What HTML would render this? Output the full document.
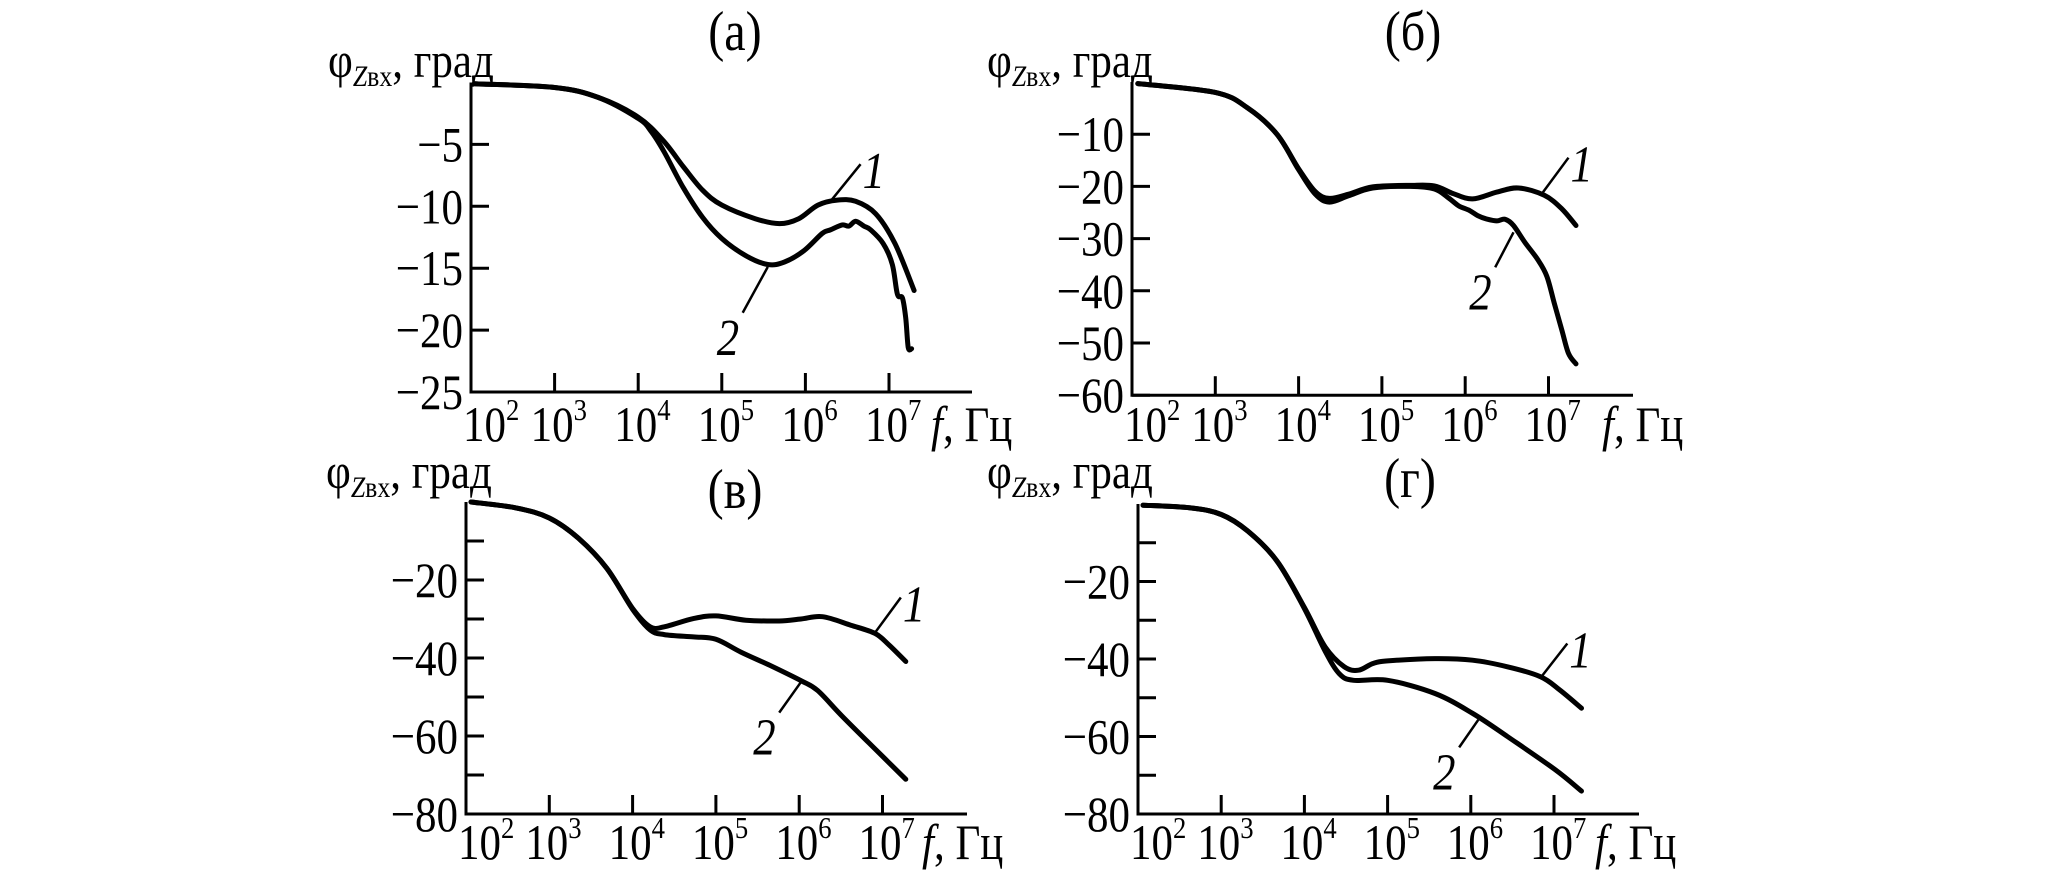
<!DOCTYPE html>
<html><head><meta charset="utf-8"><style>
html,body{margin:0;padding:0;background:#fff;}
svg{display:block;font-family:"Liberation Serif","DejaVu Serif",serif;}
</style></head><body>
<svg id="fig" width="2067" height="877" viewBox="0 0 2067 877" xmlns="http://www.w3.org/2000/svg"></svg>
<script>
// ---- data (log10 f, phase in degrees) ----
const aCurve1X=[2.04,3,3.52,4,4.3,4.54,4.77,5,5.4,5.69,5.92,6.15,6.38,6.6,6.84,7.07,7.3];
const aCurve1Y=[-0.1,-0.4,-1.2,-2.8,-4.7,-6.8,-8.7,-9.9,-11,-11.4,-11,-9.9,-9.5,-9.6,-10.6,-13,-16.8];
const aCurve2X=[2.04,3,3.52,4,4.15,4.31,4.54,4.77,5,5.29,5.55,5.75,5.98,6.2,6.3,6.44,6.52,6.6,6.7,6.78,6.93,7.04,7.1,7.16,7.2,7.23,7.27];
const aCurve2Y=[-0.1,-0.4,-1.2,-2.9,-3.9,-5.6,-8.5,-10.9,-12.6,-14,-14.7,-14.5,-13.6,-12.2,-11.9,-11.5,-11.6,-11.2,-11.6,-11.9,-13,-14.7,-17.1,-17.4,-19,-21.4,-21.5];
const bCurve1X=[2.07,3,3.39,3.74,4,4.2,4.37,4.6,4.89,5.34,5.63,5.86,6.09,6.38,6.64,6.95,7.16,7.33];
const bCurve1Y=[-0.3,-2,-5,-10,-16.6,-21,-22.3,-21.5,-20.1,-19.8,-19.9,-21.4,-22.4,-21.1,-20.3,-21.7,-24.3,-27.5];
const bCurve2X=[2.07,3,3.39,3.74,4,4.2,4.37,4.6,4.89,5.34,5.63,5.8,5.92,6.05,6.15,6.25,6.38,6.48,6.58,6.72,6.87,6.98,7.07,7.16,7.24,7.33];
const bCurve2Y=[-0.3,-2,-5,-10,-16.8,-21.5,-23,-21.8,-20.3,-20,-20.5,-22.2,-23.7,-24.6,-25.6,-26.2,-26.6,-26.3,-27.5,-30.8,-34,-37.2,-42.4,-47.5,-52,-54];
const cCurve1X=[2.06,2.6,3,3.35,3.69,4,4.21,4.38,4.73,5,5.36,5.76,6.02,6.28,6.62,6.91,7.08,7.28];
const cCurve1Y=[0,-1.5,-4.1,-9.3,-17,-27.3,-32,-32,-29.9,-29.2,-30.3,-30.5,-30,-29.4,-31.6,-33.7,-36.7,-40.9];
const cCurve2X=[2.06,2.6,3,3.35,3.69,4,4.21,4.38,4.73,5,5.3,5.65,6.02,6.22,6.51,6.91,7.28];
const cCurve2Y=[0,-1.5,-4.1,-9.3,-17,-27.5,-32.8,-34,-34.6,-35.2,-38.5,-41.9,-45.8,-48.3,-54.8,-63.3,-71.1];
const dCurve1X=[2.06,2.63,3,3.32,3.67,4,4.25,4.48,4.65,4.82,5,5.57,6.02,6.44,6.84,7.07,7.33];
const dCurve1Y=[-0.3,-1,-2.7,-7,-14.7,-26.7,-36.9,-42,-42.9,-41.2,-40.5,-39.9,-40.3,-42,-44.6,-48,-52.7];
const dCurve2X=[2.06,2.63,3,3.32,3.67,4,4.25,4.42,4.59,5,5.57,6.02,6.44,7.01,7.33];
const dCurve2Y=[-0.3,-1,-2.7,-7,-14.7,-27,-38,-43.8,-45.5,-45.5,-48.9,-54,-60,-68.5,-74.1];
const xTickExps=[2,3,4,5,6,7];
const aYTicks=[-5,-10,-15,-20,-25];
const bYTicks=[-10,-20,-30,-40,-50,-60];
const cdYTicks=[-10,-20,-30,-40,-50,-60,-70,-80];
const cdYLabels=[-20,-40,-60,-80];
// leader annotations: [fromX, fromY, toX, toY] in data coords
const aLead1=[6.3,-9.6,6.66,-6.6]; const aLead2=[5.55,-14.9,5.25,-18.6];
const bLead1=[6.92,-21.4,7.24,-14.5]; const bLead2=[6.58,-28.8,6.36,-35.5];
const cLead1=[6.9,-33.8,7.22,-24.5]; const cLead2=[6.02,-46.2,5.76,-54.0];
const dLead1=[6.84,-44.8,7.16,-36.0]; const dLead2=[6.09,-55.7,5.86,-62.8];

const NS="http://www.w3.org/2000/svg";
const svg=document.getElementById('fig');
function mk(tag,attrs,parent){const e=document.createElementNS(NS,tag);for(const k in attrs)e.setAttribute(k,attrs[k]);(parent||svg).appendChild(e);return e;}
function txt(x,y,size,anchor,parent){return mk('text',{x:0,y:0,'font-size':size,'text-anchor':anchor,transform:`translate(${x},${y}) scale(0.86,1)`},parent);}
function smooth(pts){
 let d='M'+pts[0][0].toFixed(1)+','+pts[0][1].toFixed(1);
 for(let i=0;i<pts.length-1;i++){
  const p0=pts[i-1]||pts[i],p1=pts[i],p2=pts[i+1],p3=pts[i+2]||p2;
  const c1=[p1[0]+(p2[0]-p0[0])/6,p1[1]+(p2[1]-p0[1])/6];
  const c2=[p2[0]-(p3[0]-p1[0])/6,p2[1]-(p3[1]-p1[1])/6];
  d+=` C${c1[0].toFixed(1)},${c1[1].toFixed(1)} ${c2[0].toFixed(1)},${c2[1].toFixed(1)} ${p2[0].toFixed(1)},${p2[1].toFixed(1)}`;
 }
 return d;
}

const panels=[
 {id:'a',title:'(а)',tx:735,ty:50,x0:471,dec:83.6,y0:82.5,yu:12.38,ymin:-25,xEnd:972,yTicks:aYTicks,yLabels:aYTicks,
  c1x:aCurve1X,c1y:aCurve1Y,c2x:aCurve2X,c2y:aCurve2Y,l1:aLead1,l2:aLead2,lbx:328,lby:77,xlb:441,fx:931},
 {id:'b',title:'(б)',tx:1413,ty:50,x0:1132,dec:83.3,y0:82,yu:5.22,ymin:-60,xEnd:1633,yTicks:bYTicks,yLabels:bYTicks,
  c1x:bCurve1X,c1y:bCurve1Y,c2x:bCurve2X,c2y:bCurve2Y,l1:bLead1,l2:bLead2,lbx:987,lby:77,xlb:441,fx:1602},
 {id:'c',title:'(в)',tx:735,ty:508,x0:466,dec:83.3,y0:502,yu:3.9,ymin:-80,xEnd:967,yTicks:cdYTicks,yLabels:cdYLabels,
  c1x:cCurve1X,c1y:cCurve1Y,c2x:cCurve2X,c2y:cCurve2Y,l1:cLead1,l2:cLead2,lbx:326,lby:488,xlb:859,fx:922},
 {id:'d',title:'(г)',tx:1410,ty:497,x0:1138,dec:83.2,y0:504,yu:3.875,ymin:-80,xEnd:1639,yTicks:cdYTicks,yLabels:cdYLabels,
  c1x:dCurve1X,c1y:dCurve1Y,c2x:dCurve2X,c2y:dCurve2Y,l1:dLead1,l2:dLead2,lbx:987,lby:488,xlb:859,fx:1595}
];

panels.forEach(p=>{
 const X=v=>p.x0+(v-2)*p.dec;
 const Y=v=>p.y0-v*p.yu;
 const g=mk('g',{});
 
 
 const yb=Y(p.ymin);
 const ax=mk('path',{d:`M${p.x0},${p.y0} V${yb} H${p.xEnd}`,fill:'none',stroke:'#000','stroke-width':3},g);
 
 
 p.yTicks.forEach(v=>{
  const t=mk('line',{x1:p.x0,x2:p.x0+18,y1:Y(v),y2:Y(v),stroke:'#000','stroke-width':3},g);
  
  
 });
 p.yLabels.forEach(v=>{
  const t=txt(p.x0-8,Y(v)+17,50,'end',g);
  t.textContent='\u2212'+Math.abs(v);
  
  
 });
 xTickExps.forEach(e=>{
  if(e>2){const t=mk('line',{x1:X(e),x2:X(e),y1:yb,y2:yb-19,stroke:'#000','stroke-width':3},g);
   
   }
  const t=txt(e==2?X(e)-8:X(e)-24,p.xlb,50,'start',g);
  
  
  t.innerHTML='10<tspan font-size="31" dy="-21">'+e+'</tspan>';
 });
 const fl=txt(p.fx,p.xlb,50,'start',g);
 
 
 fl.innerHTML='<tspan font-style="italic">f</tspan>, Гц';
 const yl=txt(p.lbx,p.lby,50,'start',g);
 
 
 yl.innerHTML='φ<tspan font-size="30" dy="9"><tspan font-style="italic">Z</tspan>вх</tspan><tspan dy="-9">, град</tspan>';
 const ti=txt(p.tx,p.ty,56,'middle',g);
 ti.textContent=p.title;
 
 
 [[p.c2x,p.c2y,'curve-2'],[p.c1x,p.c1y,'curve-1']].forEach(([xs,ys,n])=>{
  const pts=xs.map((v,i)=>[X(v),Y(ys[i])]);
  const c=mk('path',{d:smooth(pts),fill:'none',stroke:'#000','stroke-width':5,'stroke-linejoin':'round','stroke-linecap':'round'},g);
  
  
 });
 [[p.l1,'1'],[p.l2,'2']].forEach(([l,lab])=>{
  const ln=mk('line',{x1:X(l[0]),y1:Y(l[1]),x2:X(l[2]),y2:Y(l[3]),stroke:'#000','stroke-width':2.5},g);
  
  
  const up=l[3]>l[1];
  const tx=txt(up?X(l[2])+2:X(l[2])-26,up?Y(l[3])+24:Y(l[3])+42,52,'start',g);
  tx.setAttribute('font-style','italic');
  tx.textContent=lab;
  
  
 });
});
</script>
</body></html>
